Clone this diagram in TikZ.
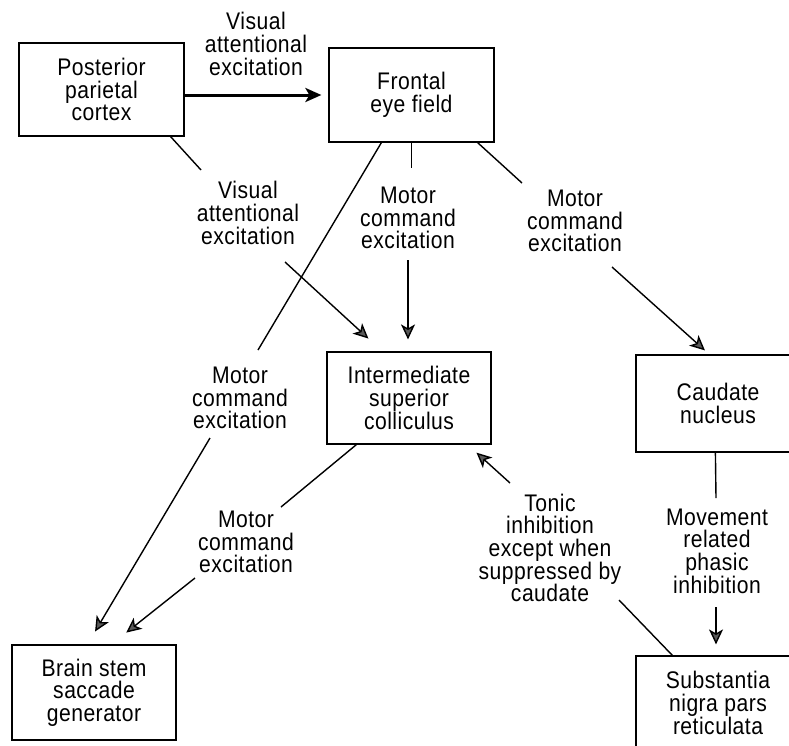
\documentclass[tikz,border=0pt]{standalone}
\usepackage{fontspec}
\setmainfont{Liberation Sans}[FakeStretch=0.88,LetterSpace=2]
\usetikzlibrary{arrows.meta,calc}
\newcommand\diagfont{\fontsize{24}{22.7}\selectfont}
\begin{document}
\begin{tikzpicture}[x=1pt,y=-1pt,
  box/.style={draw, line width=1.2pt, minimum width=165pt, minimum height=94pt, inner sep=0pt, align=center, font=\diagfont},
  lbl/.style={align=center, inner sep=0pt, font=\diagfont},
  conn/.style={line width=1.4pt},
  arr/.style={line width=1.4pt, -{Stealth[length=15pt,width=14pt,inset=4pt,fill=black!65]}},
]
\useasboundingbox (0,0) rectangle (789,745);
\clip (0,0) rectangle (789,745);

% boxes
\node[box, minimum height=93pt] (ppc) at (101.5,89.5) {Posterior\\parietal\\cortex};
\node[box] (fef) at (411.5,95) {Frontal\\eye field};
\node[box, minimum width=164pt, minimum height=92pt] (isc) at (409,398) {Intermediate\\superior\\colliculus};
\node[box, minimum width=164pt, minimum height=97pt] (cau) at (718,403.5) {Caudate\\nucleus};
\node[box, minimum width=164pt] (snr) at (718,703) {Substantia\\nigra pars\\reticulata};
\node[box, minimum width=164pt, minimum height=95pt] (bss) at (94,692.5) {Brain stem\\saccade\\generator};

% labels
\node[lbl] (l1) at (256,44) {Visual\\attentional\\excitation};
\node[lbl] (l2) at (248,213) {Visual\\attentional\\excitation};
\node[lbl] (l3) at (408,218) {Motor\\command\\excitation};
\node[lbl] (l4) at (575,221) {Motor\\command\\excitation};
\node[lbl] (l5) at (240,398) {Motor\\command\\excitation};
\node[lbl] (l6) at (246,542) {Motor\\command\\excitation};
\node[lbl] (l7) at (550,548) {Tonic\\inhibition\\except when\\suppressed by\\caudate};
\node[lbl] (l8) at (717,551) {Movement\\related\\phasic\\inhibition};

% break coordinates
\coordinate (p1a) at (201,170);
\coordinate (p1b) at (285,262);
\coordinate (f1a) at (258,350);
\coordinate (f1b) at (210,438);
\coordinate (f2a) at (411.5,168);
\coordinate (f2b) at (408,260);
\coordinate (f3a) at (522,183);
\coordinate (f3b) at (612,267);
\coordinate (i1a) at (281,507);
\coordinate (i1b) at (195,578);
\coordinate (s1a) at (619,600);
\coordinate (s1b) at (510,483);
\coordinate (c1a) at (716,498);
\coordinate (c1b) at (716,607);

% connectors
\draw[line width=3pt, -{Stealth[length=16pt,width=14pt,inset=4pt,fill=black!65]}, shorten >=7pt] (ppc.east |- fef.west) -- (fef.west);

\draw[conn] ($(ppc.south east)+(-14,0)$) -- (p1a);
\draw[arr, shorten >=19pt] (p1b) -- ($(isc.north west)+(56,0)$);

\draw[conn] ($(fef.south west)+(53,0)$) -- (f1a);
\draw[arr, shorten >=15pt] (f1b) -- ($(bss.north west)+(76,0)$);

\draw[conn] (fef.south) -- (f2a);
\draw[arr, shorten >=12pt] (f2b) -- (f2b |- isc.north);

\draw[conn] ($(fef.south east)+(-17,0)$) -- (f3a);
\draw[arr, shorten >=6pt] (f3b) -- ($(cau.north west)+(74,0)$);

\draw[conn] ($(isc.south west)+(30,0)$) -- (i1a);
\draw[arr, shorten >=19pt] (i1b) -- ($(bss.north west)+(100,0)$);

\draw[conn] ($(snr.north west)+(37,0)$) -- (s1a);
\draw[arr, shorten >=12pt] (s1b) -- ($(isc.south east)+(-24,0)$);

\draw[conn] ($(cau.south west)+(80,0)$) -- (c1a);
\draw[arr, shorten >=11pt] (c1b) -- (c1b |- snr.north);
\end{tikzpicture}
\end{document}
